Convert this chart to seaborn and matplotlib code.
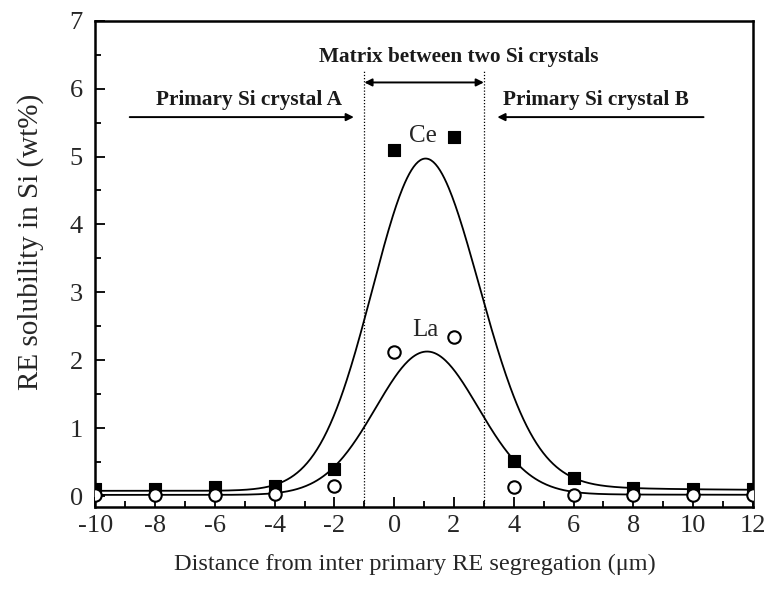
import numpy as np
import pandas as pd
import matplotlib
matplotlib.use("Agg")
import matplotlib.pyplot as plt
import seaborn as sns

# Measured RE solubility in Si (wt%) across the distance from the segregation
distance = [-10, -8, -6, -4, -2, 0, 2, 4, 6, 8, 10, 12]
ce_wt = [0.10, 0.10, 0.13, 0.15, 0.40, 5.10, 5.28, 0.52, 0.27, 0.12, 0.10, 0.10]
la_wt = [0.02, 0.02, 0.02, 0.03, 0.15, 2.12, 2.34, 0.13, 0.02, 0.02, 0.02, 0.02]

# Fitted peak profiles: pseudo-Voigt with separate left/right parameters
ce_fit = dict(base=0.08, amp=4.89, x0=1.05,
              sigma_left=1.78, eta_left=0.0,
              sigma_right=1.85, eta_right=0.1, gamma=2.0)
la_fit = dict(base=0.02, amp=2.11, x0=1.1,
              sigma_left=1.72, eta_left=0.0,
              sigma_right=1.72, eta_right=0.03, gamma=2.0)

# Region boundaries of the matrix between the two Si crystals
matrix_bounds = [-1, 3]


def profile(x, base, amp, x0, sigma_left, eta_left, sigma_right, eta_right,
            gamma):
    d = x - x0
    left = d < 0
    sigma = np.where(left, sigma_left, sigma_right)
    eta = np.where(left, eta_left, eta_right)
    gau = np.exp(-d ** 2 / (2 * sigma ** 2))
    lor = 1.0 / (1.0 + (d / gamma) ** 2)
    return base + amp * ((1 - eta) * gau + eta * lor)


sns.set_theme(style="ticks")
plt.rcParams["font.family"] = ["Liberation Serif", "DejaVu Serif"]
plt.rcParams["axes.unicode_minus"] = False

fig = plt.figure(figsize=(7.69, 5.89), dpi=100)
ax = fig.add_axes([0.124, 0.139, 0.855, 0.826])

xs = np.linspace(-10, 12, 600)
curves = pd.DataFrame({
    "x": np.concatenate([xs, xs]),
    "y": np.concatenate([profile(xs, **ce_fit), profile(xs, **la_fit)]),
    "el": ["Ce"] * len(xs) + ["La"] * len(xs),
})
sns.lineplot(data=curves, x="x", y="y", units="el", estimator=None,
             color="black", lw=1.3, ax=ax, legend=False)

pts = pd.DataFrame({"x": distance, "Ce": ce_wt, "La": la_wt})
sns.scatterplot(data=pts, x="x", y="Ce", marker="s", s=85, color="black",
                edgecolor="black", linewidth=0.8, ax=ax, zorder=4, legend=False)
sns.scatterplot(data=pts, x="x", y="La", marker="o", s=80, color="white",
                edgecolor="black", linewidth=1.5, ax=ax, zorder=4, legend=False)

# Boundaries of the matrix region
for xb in matrix_bounds:
    ax.plot([xb, xb], [-0.2, 6.26], ls=(0, (1, 1.5)), color="black", lw=0.9)

arrow_kw = dict(arrowstyle="-|>", color="black", lw=1.4, mutation_scale=11,
                shrinkA=0, shrinkB=0)
ax.annotate("", xy=(matrix_bounds[0], 6.09), xytext=(matrix_bounds[1], 6.09),
            arrowprops=dict(arrowstyle="<|-|>", color="black", lw=1.4,
                            mutation_scale=11, shrinkA=0, shrinkB=0))
ax.annotate("", xy=(-1.35, 5.58), xytext=(-8.85, 5.58), arrowprops=arrow_kw)
ax.annotate("", xy=(3.45, 5.58), xytext=(10.35, 5.58), arrowprops=arrow_kw)

txt_kw = dict(ha="center", va="center", fontsize=15.3, fontweight="bold",
              color="#1a1a1a")
ax.text(2.15, 6.46, "Matrix between two Si crystals", **txt_kw)
ax.text(-4.85, 5.83, "Primary Si crystal A", **txt_kw)
ax.text(6.75, 5.83, "Primary Si crystal B", **txt_kw)
ax.text(0.97, 5.3, "Ce", ha="center", va="center", fontsize=18)
ax.text(1.05, 2.45, "La", ha="center", va="center", fontsize=18)

ax.set_xlim(-10, 12)
ax.set_ylim(-0.16, 7)
ax.set_xticks(range(-10, 13, 2))
ax.set_xticks(range(-9, 12, 2), minor=True)
ax.set_yticks(range(0, 8))
ax.set_yticks(np.arange(0.5, 7, 1.0), minor=True)
ax.tick_params(which="both", direction="in", top=False, right=False,
               labelsize=19, width=1.3, color="black")
ax.tick_params(axis="y", pad=9)
ax.tick_params(axis="x", pad=6)
ax.tick_params(which="major", length=7)
ax.tick_params(which="minor", length=4)
for s in ax.spines.values():
    s.set_linewidth(1.8)
    s.set_color("black")

ax.set_xlabel("Distance from inter primary RE segregation (μm)", fontsize=17.5)
ax.set_ylabel("RE solubility in Si (wt%)", fontsize=21)
ax.xaxis.set_label_coords(0.486, -0.095)
ax.yaxis.set_label_coords(-0.078, 0.546)

fig.savefig("out.png", dpi=100)
